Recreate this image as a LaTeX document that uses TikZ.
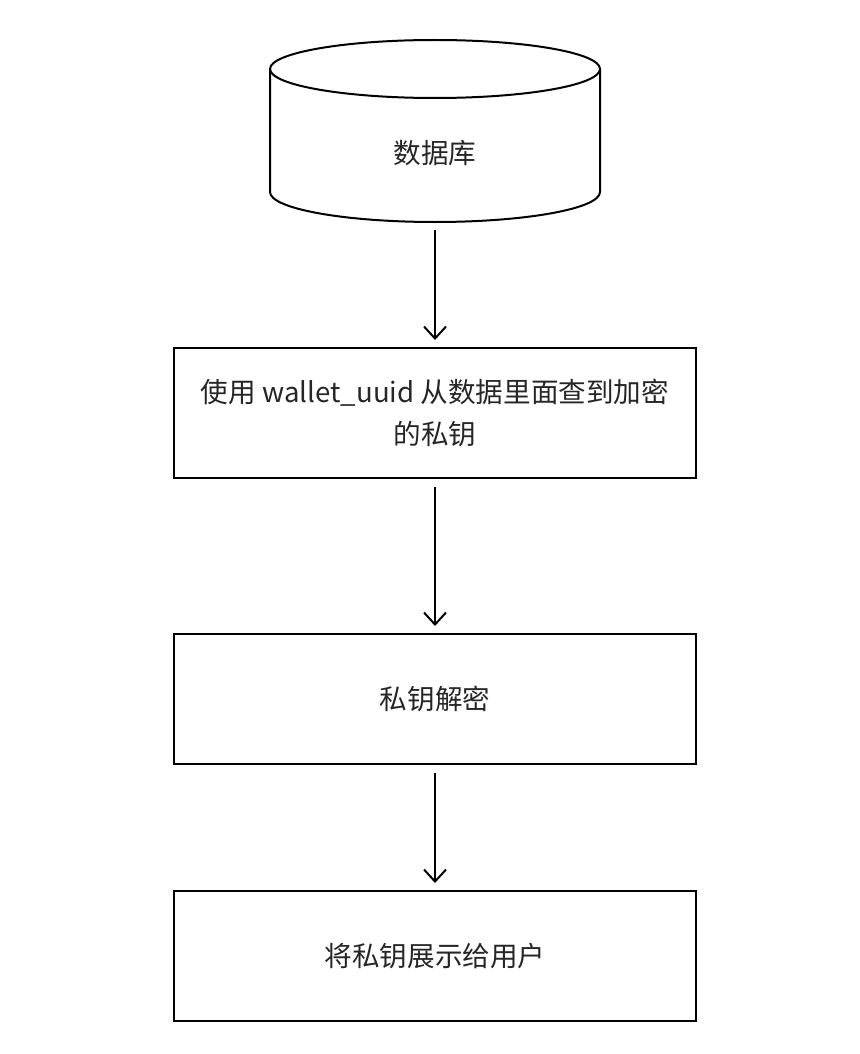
\documentclass[tikz,border=0pt]{standalone}
\usepackage{fontspec}
\setmainfont{Noto Sans CJK SC}
\usetikzlibrary{positioning,arrows.meta}

\begin{document}
\begin{tikzpicture}[x=0.5pt,y=-0.5pt,line width=1pt,
	every node/.style={font=\fontsize{13.8}{21}\selectfont,align=center,text=black!85},
	stepbox/.style={draw=black,minimum width=261pt,minimum height=65pt,inner sep=0pt},
	flow/.style={-{Straight Barb[length=6pt,width=11pt]},shorten <=4pt,shorten >=3.5pt}]
	\useasboundingbox (0,0) rectangle (860,1054);

	% database
	\draw (435,69) ellipse [x radius=82.5pt,y radius=14.5pt];
	\draw (270,69)--(270,192) arc[start angle=180,end angle=360,x radius=82.5pt,y radius=15pt]--(600,69);
	\node (db) at (435,153) {数据库};
	\coordinate (dbout) at (435,222);

	\node[stepbox] (fetch) at (435,413) {使用 wallet\_uuid 从数据里面查到加密\\的私钥};
	\node[stepbox,below=77pt of fetch] (decrypt) {私钥解密};
	\node[stepbox,below=62.5pt of decrypt] (show) {将私钥展示给用户};

	\draw[flow] (dbout)--(fetch);
	\draw[flow] (fetch)--(decrypt);
	\draw[flow] (decrypt)--(show);
\end{tikzpicture}
\end{document}
